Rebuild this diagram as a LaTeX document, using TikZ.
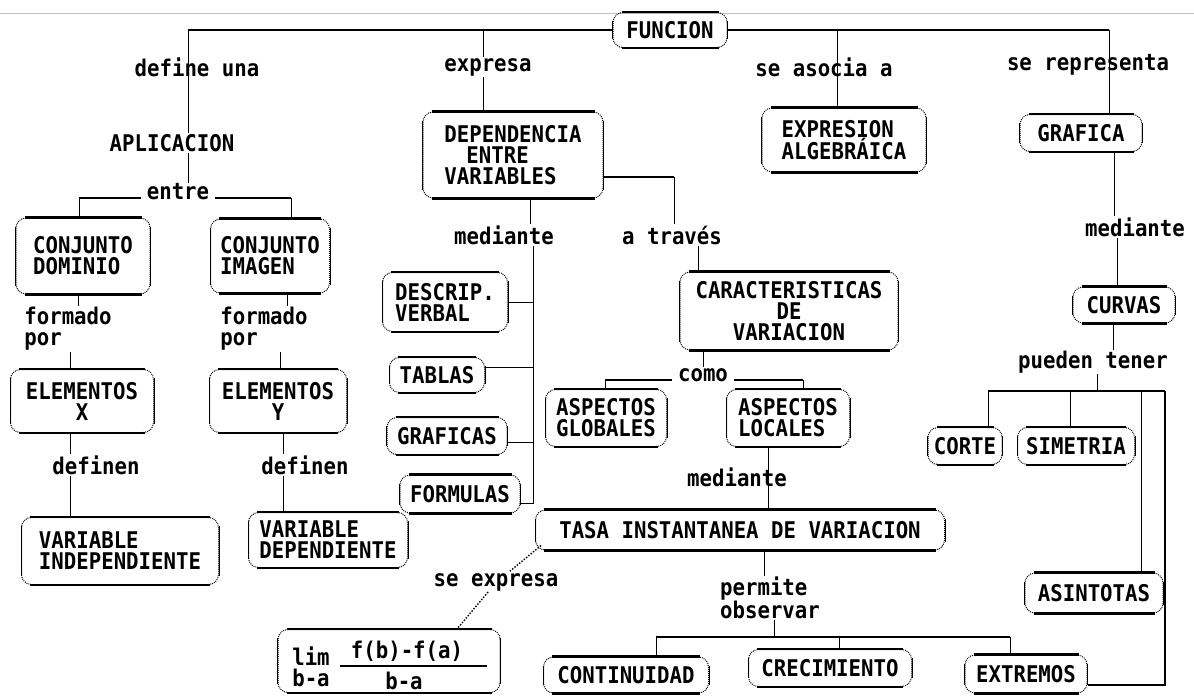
\documentclass[tikz,border=0pt]{standalone}
\usepackage{fontspec}
\newfontfamily\pix[FakeStretch=0.9]{DejaVu Sans Mono}
\newcommand\pixfont{\pix\bfseries\fontsize{23}{21}\selectfont}
\begin{document}
\begin{tikzpicture}[x=1pt,y=-1pt,
  every node/.style={font=\pixfont},
  box/.style={draw, densely dotted, line width=1pt, rounded corners=10pt, inner sep=2pt, align=center},
  bx/.style 2 args={box, minimum width=#1pt, minimum height=#2pt},
  lbl/.style={inner sep=1pt, align=center},
  ln/.style={line width=1pt},
  bar/.style={line width=2pt},
  dots/.style={line width=1.4pt, dash pattern=on 1.4pt off 1.6pt}]
\useasboundingbox (0,0) rectangle (1194,696);
\draw[black!25, line width=1pt] (0,13) -- (1194,13);

% ---------- nodes ----------
\node[bx={114}{35}] (funcion) at (670,30) {FUNCION};
\node[lbl] (defl) at (197,67) {define una};
\node[lbl] (expl) at (488,67) {expresa};
\node[lbl] (asol) at (824,67) {se asocia a};
\node[lbl] (repl) at (1088,65) {se representa};
\node[lbl] (aplic) at (172,143) {APLICACION};
\node[bx={180}{86}, align=left] (dep) at (513,155) {DEPENDENCIA\\\hspace*{22pt}ENTRE\\VARIABLES};
\node[bx={164}{64}, align=left] (expr) at (844,140) {EXPRESION\\ALGEBRÁICA};
\node[bx={122}{37}] (graf) at (1081,133) {GRAFICA};
\node[lbl, inner xsep=6pt] (entre) at (178,192) {entre};
\node[bx={134}{76}, align=left] (dom) at (83,256) {CONJUNTO\\DOMINIO};
\node[bx={119}{74}, align=left] (img) at (270,256) {CONJUNTO\\IMAGEN};
\node[lbl] (med1) at (504,235) {mediante};
\node[lbl] (atr) at (672,235) {a través};
\node[lbl] (med2) at (1135,227) {mediante};
\node[lbl, align=left] (form1) at (68,329) {formado\\por};
\node[lbl, align=left] (form2) at (264,329) {formado\\por};
\node[bx={125}{59}, align=left] (desc) at (445,302) {DESCRIP.\\VERBAL};
\node[bx={95}{35}] (tab) at (437,375) {TABLAS};
\node[bx={120}{37}] (grs) at (447,436) {GRAFICAS};
\node[bx={120}{38}] (frm) at (460,494) {FORMULAS};
\node[bx={218}{78}] (car) at (789,311) {CARACTERISTICAS\\DE\\VARIACION};
\node[bx={102}{36}] (curv) at (1124,305) {CURVAS};
\node[lbl] (pued) at (1093,362) {pueden tener};
\node[bx={143}{63}] (elx) at (82,401) {ELEMENTOS\\X};
\node[bx={137}{63}] (ely) at (278,401) {ELEMENTOS\\Y};
\node[lbl, inner xsep=6pt] (como) at (703,375) {como};
\node[bx={121}{57}, align=left] (glob) at (606,418) {ASPECTOS\\GLOBALES};
\node[bx={123}{57}, align=left] (loc) at (788,418) {ASPECTOS\\LOCALES};
\node[bx={74}{37}] (corte) at (965,446) {CORTE};
\node[bx={117}{37}] (sim) at (1076,446) {SIMETRIA};
\node[lbl] (def1) at (96,465) {definen};
\node[lbl] (def2) at (305,465) {definen};
\node[lbl] (med3) at (737,477) {mediante};
\node[bx={197}{67}, align=left] (vind) at (120,551) {VARIABLE\\INDEPENDIENTE};
\node[bx={159}{55}, align=left] (vdep) at (328,540) {VARIABLE\\DEPENDIENTE};
\node[bx={409}{40}] (tasa) at (740,530) {TASA INSTANTANEA DE VARIACION};
\node[lbl] (sexp) at (496,582) {se expresa};
\node[lbl, align=left] (perm) at (770,598) {permite\\observar};
\node[bx={138}{40}] (asin) at (1094,593) {ASINTOTAS};
\node[bx={222}{63}] (lim) at (389,661) {};
\node[lbl] (limL) at (311,667) {lim\\b-a};
\node[lbl] (numr) at (407,651) {f(b)-f(a)};
\node[lbl] (dnm) at (404,681) {b-a};
\node[bx={165}{36}] (cont) at (626,675) {CONTINUIDAD};
\node[bx={163}{37}] (crec) at (830,668) {CRECIMIENTO};
\node[bx={122}{38}] (extr) at (1026,674) {EXTREMOS};

% box edges: thick top/bottom, solid sides
\foreach \n in {funcion,dep,expr,graf,dom,img,desc,tab,grs,frm,car,curv,elx,ely,glob,loc,corte,sim,vind,vdep,tasa,asin,lim,cont,crec,extr} {
  \draw[line width=2.4pt] ([xshift=9pt]\n.north west) -- ([xshift=-9pt]\n.north east);
  \draw[line width=2.4pt] ([xshift=9pt]\n.south west) -- ([xshift=-9pt]\n.south east);
  \draw[line width=1pt] ([yshift=-9pt]\n.north west) -- ([yshift=9pt]\n.south west);
  \draw[line width=1pt] ([yshift=-9pt]\n.north east) -- ([yshift=9pt]\n.south east);
}
% fraction bar
\draw[line width=2pt] ([xshift=-49pt,yshift=-5pt]lim.center) -- ++(147,0);

% ---------- connectors ----------
\coordinate (tl) at (188,30);
\coordinate (tr) at (1109,30);
\coordinate (te) at (483,30);
\coordinate (ta) at (837,30);
\draw[bar] (funcion.west) -- (tl);
\draw[bar] (funcion.east) -- (tr);
\draw[ln] (tl) -- (tl |- aplic.north);
\draw[ln] (aplic.south -| tl) -- (entre.north -| tl);
\draw[ln] (te) -- (te |- expl.north);
\draw[ln] (te |- expl.south) -- (te |- dep.north);
\draw[ln] (ta) -- (ta |- expr.north);
\draw[ln] (tr) -- (tr |- graf.north);

% entre
\coordinate (eL) at (79,198);
\coordinate (eR) at (291,198);
\draw[bar] (entre.west |- eL) -- (eL);
\draw[ln] (eL) -- (eL |- dom.north);
\draw[bar] (entre.east |- eR) -- (eR);
\draw[ln] (eR) -- (eR |- img.north);

% left columns
\draw[ln] ([xshift=-5pt]dom.south) -- ([xshift=-5pt]dom.south |- form1.north);
\draw[ln] ([xshift=-12pt]elx.north |- form1.south) -- ([xshift=-12pt]elx.north);
\draw[ln] ([xshift=17pt]img.south) -- ([xshift=17pt]img.south |- form2.north);
\draw[ln] ([xshift=2pt]ely.north |- form2.south) -- ([xshift=2pt]ely.north);
\draw[ln] ([xshift=-12pt]elx.south) -- ([xshift=-12pt]elx.south |- def1.north);
\draw[ln] ([xshift=-50pt]vind.north |- def1.south) -- ([xshift=-50pt]vind.north);
\draw[ln] ([xshift=5pt]ely.south) -- ([xshift=5pt]ely.south |- def2.north);
\draw[ln] ([xshift=-45pt]vdep.north |- def2.south) -- ([xshift=-45pt]vdep.north);

% dependencia -> mediante -> representations
\coordinate (vb) at (533,503);
\draw[ln] ([xshift=17pt]dep.south) -- ([xshift=17pt]dep.south |- med1.north);
\draw[ln] (med1.south -| vb) -- (vb) -- ([yshift=-9pt]frm.east);
\draw[ln] (desc.east) -- (desc.east -| vb);
\draw[ln] ([yshift=8pt]tab.east) -- ([yshift=8pt]tab.east -| vb);
\draw[ln] ([yshift=-6pt]grs.east) -- ([yshift=-6pt]grs.east -| vb);

% dependencia -> a traves -> caracteristicas
\coordinate (ar) at (674,177);
\draw[bar] ([yshift=-22pt]dep.east) -- (ar);
\draw[ln] (ar) -- (ar |- atr.north);
\draw[ln] ([xshift=-91pt]car.north |- atr.south) -- ([xshift=-91pt]car.north);

% como
\coordinate (cL) at (605,380);
\coordinate (cR) at (803,380);
\draw[ln] (car.south -| como.north) -- (como.north);
\draw[bar] (como.west |- cL) -- (cL);
\draw[ln] (cL) -- (cL |- glob.north);
\draw[bar] (como.east |- cR) -- (cR);
\draw[ln] (cR) -- (cR |- loc.north);

% locales -> mediante -> tasa
\draw[ln] ([xshift=-20pt]loc.south) -- ([xshift=-20pt]loc.south |- tasa.north);

% tasa -> permite observar
\coordinate (bm) at (774,637);
\coordinate (bL) at (656,637);
\coordinate (bC) at (839,637);
\coordinate (bR) at (1010,637);
\draw[ln] ([xshift=24pt]tasa.south) -- ([xshift=24pt]tasa.south |- perm.north);
\draw[ln] (perm.south -| bm) -- (bm);
\draw[bar] (bL) -- (bR);
\draw[ln] (bL) -- (bL |- cont.north);
\draw[ln] (bC) -- (bC |- crec.north);
\draw[ln] (bR) -- (bR |- extr.north);

% tasa -> se expresa -> lim
\draw[dots] ([xshift=6pt,yshift=5pt]tasa.south west) -- ([xshift=13pt]sexp.north);
\draw[dots] ([xshift=-8pt]sexp.south) -- ([xshift=68pt]lim.north);

% grafica -> curvas -> features
\draw[ln] ([xshift=33pt]graf.south) -- ([xshift=33pt]graf.south |- med2.north);
\draw[ln] ([xshift=-7pt]curv.north |- med2.south) -- ([xshift=-7pt]curv.north);
\draw[ln] ([xshift=-11pt]curv.south) -- ([xshift=-11pt]curv.south |- pued.north);
\coordinate (pb) at (1097,391);
\coordinate (pL) at (988,391);
\coordinate (pS) at (1070,391);
\coordinate (pA) at (1141,391);
\coordinate (pR) at (1165,391);
\draw[ln] (pued.south -| pb) -- (pb);
\draw[bar] (pL) -- (pR);
\draw[ln] (pL) -- (pL |- corte.north);
\draw[ln] (pS) -- (pS |- sim.north);
\draw[ln] (pA) -- (pA |- asin.north);
\draw[bar] (pR) |- ([yshift=-11pt]extr.east);
\end{tikzpicture}
\end{document}
